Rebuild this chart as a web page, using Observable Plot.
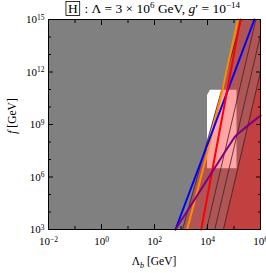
<!DOCTYPE html>
<html><head><meta charset="utf-8">
<script src="https://cdn.jsdelivr.net/npm/d3@7"></script>
<script src="https://cdn.jsdelivr.net/npm/@observablehq/plot@0.6"></script>
<style>body{margin:0;background:#fff} svg{display:block}</style>
</head><body><div id="chart"></div>
<script>
// axis domains and ticks
const xDomain = [1e-2, 1e6];
const yDomain = [1e3, 1e15];
const xTicks = [1e-2, 1e0, 1e2, 1e4, 1e6];
const xTickExp = ["−2", "0", "2", "4", "6"];
const xMinorTicks = [1e-1, 1e1, 1e3, 1e5];
const yTicks = [1e3, 1e6, 1e9, 1e12, 1e15];
const yTickExp = ["3", "6", "9", "12", "15"];
const yMinorTicks = [1e4, 1e5, 1e7, 1e8, 1e10, 1e11, 1e13, 1e14];

// curves: Λ_b [GeV] and f [GeV]
const blueLb = [6.2e2, 5.9e5], blueF = [1e3, 1e15];
const orangeLb = [1.7e3, 1.8e4, 1.4e5], orangeF = [1e3, 1e9, 1e15];
const redLb = [5.8e3, 1.75e5], redF = [1e3, 1e15];
const purpleLb = [6.2e2, 1e4, 4e4, 8e4, 1.15e5, 2e5, 1e6];
const purpleF = [1e3, 7.4e5, 2e7, 1e8, 2.2e8, 4.6e8, 3.2e9];
const thin1Lb = [1.14e3, 1.92e5], thin1F = [1e3, 1e15];
const thin2Lb = [9.2e3, 6.7e5], thin2F = [1e3, 1e15];
const thin3Lb = [1.88e4, 1e6], thin3F = [1e3, 1.3e14];
const thin4Lb = [4.0e4, 1e6], thin4F = [1e3, 9.8e11];
// white box region
const boxLbLeft = [1e4, 1e4, 1.3e4], boxLbRight = [1.3e5, 1.3e5, 1.3e5], boxF = [3e6, 4.6e10, 9e10];

const rows = (lb, f) => lb.map((x, i) => ({lb: x, f: f[i], edge: xDomain[1]}));
const boxRows = boxF.map((f, i) => ({f, l: boxLbLeft[i], r: boxLbRight[i]}));
const fmt = (vals, exps) => d => "10^" + exps[vals.findIndex(v => Math.abs(Math.log10(v) - Math.log10(d)) < 1e-6)];
const serif = "Liberation Serif";

const svg = Plot.plot({
  width: 266, height: 273,
  marginLeft: 48, marginRight: 6, marginTop: 19, marginBottom: 44,
  x: {type: "log", domain: xDomain, label: null},
  y: {type: "log", domain: yDomain, label: null},
  style: {fontFamily: serif, fontSize: "11px", color: "#000", background: "#fff"},
  marks: [
    Plot.frame({fill: "#808080"}),
    Plot.areaX(boxRows, {y: "f", x1: "l", x2: "r", fill: "#fff"}),
    Plot.areaX(rows(thin1Lb, thin1F), {y: "f", x1: "lb", x2: "edge", fill: "rgb(255,12,12)", fillOpacity: 0.37}),
    Plot.areaX(rows(thin4Lb, thin4F), {y: "f", x1: "lb", x2: "edge", fill: "rgb(255,5,5)", fillOpacity: 0.25}),
    Plot.line(rows(thin1Lb, thin1F), {x: "lb", y: "f", stroke: "#3b2222", strokeWidth: 0.8}),
    Plot.line(rows(thin2Lb, thin2F), {x: "lb", y: "f", stroke: "#3b2222", strokeWidth: 0.8}),
    Plot.line(rows(thin3Lb, thin3F), {x: "lb", y: "f", stroke: "#3b2222", strokeWidth: 0.8}),
    Plot.line(rows(thin4Lb, thin4F), {x: "lb", y: "f", stroke: "#3b2222", strokeWidth: 0.8}),
    Plot.line(rows(orangeLb, orangeF), {x: "lb", y: "f", stroke: "#ff8c00", strokeWidth: 2, curve: "catmull-rom"}),
    Plot.line(rows(blueLb, blueF), {x: "lb", y: "f", stroke: "#0000ff", strokeWidth: 2}),
    Plot.line(rows(redLb, redF), {x: "lb", y: "f", stroke: "#ff0000", strokeWidth: 2}),
    Plot.line(rows(purpleLb, purpleF), {x: "lb", y: "f", stroke: "#800080", strokeWidth: 2, curve: "catmull-rom"}),
    Plot.frame({stroke: "#000", strokeWidth: 1}),
    // labels
    Plot.axisX(xTicks, {anchor: "bottom", tickSize: 0, tickPadding: 8, tickFormat: fmt(xTicks, xTickExp), label: null}),
    Plot.axisY(yTicks, {anchor: "left", tickSize: 0, tickPadding: 4, tickFormat: fmt(yTicks, yTickExp), label: null}),
    // inward ticks
    Plot.axisX(xTicks, {anchor: "bottom", tickSize: -5, fill: "none", label: null}),
    Plot.axisX(xMinorTicks, {anchor: "bottom", tickSize: -3, fill: "none", label: null}),
    Plot.axisX(xTicks, {anchor: "top", tickSize: -5, fill: "none", label: null}),
    Plot.axisX(xMinorTicks, {anchor: "top", tickSize: -3, fill: "none", label: null}),
    Plot.axisY(yTicks, {anchor: "left", tickSize: -5, fill: "none", label: null}),
    Plot.axisY(yMinorTicks, {anchor: "left", tickSize: -3, fill: "none", label: null}),
    Plot.axisY(yTicks, {anchor: "right", tickSize: -5, fill: "none", label: null}),
    Plot.axisY(yMinorTicks, {anchor: "right", tickSize: -3, fill: "none", label: null})
  ]
});
document.getElementById("chart").append(svg);

const S = d3.select(svg);
S.selectAll('g[aria-label="x-axis tick label"] text, g[aria-label="y-axis tick label"] text').each(function () {
  const s = this.textContent;
  const [b, e] = s.split("^");
  const t = d3.select(this);
  t.text(b);
  t.append("tspan").attr("dy", "-0.45em").attr("font-size", "7.5px").text(e);
});

// title
const title = S.append("text").attr("x", 154).attr("y", 13).attr("text-anchor", "middle")
  .attr("font-family", serif).attr("font-size", 13.5).attr("fill", "#000");
title.append("tspan").text("H");
title.append("tspan").text("\u2002: Λ = 3 × 10");
title.append("tspan").attr("dy", -5).attr("font-size", 9).text("6");
title.append("tspan").attr("dy", 5).text(" GeV, ");
title.append("tspan").attr("font-style", "italic").text("g");
title.append("tspan").text("′ = 10");
title.append("tspan").attr("dy", -5).attr("font-size", 9).text("−14");
const ext = title.node().getExtentOfChar(0);
S.append("rect").attr("x", ext.x - 2).attr("y", ext.y + 0.5).attr("width", ext.width + 4).attr("height", ext.height - 1)
  .attr("fill", "none").attr("stroke", "#000").attr("stroke-width", 0.8);

// axis titles
const xl = S.append("text").attr("x", 154).attr("y", 265).attr("text-anchor", "middle")
  .attr("font-family", serif).attr("font-size", 11.5).attr("fill", "#000");
xl.append("tspan").text("Λ");
xl.append("tspan").attr("dy", 3).attr("font-size", 8).attr("font-style", "italic").text("b");
xl.append("tspan").attr("dy", -3).text(" [GeV]");

const yl = S.append("text").attr("transform", "translate(16,116) rotate(-90)").attr("text-anchor", "middle")
  .attr("font-family", serif).attr("font-size", 11.5).attr("fill", "#000");
yl.append("tspan").attr("font-style", "italic").text("f");
yl.append("tspan").text(" [GeV]");
</script>
</body></html>
